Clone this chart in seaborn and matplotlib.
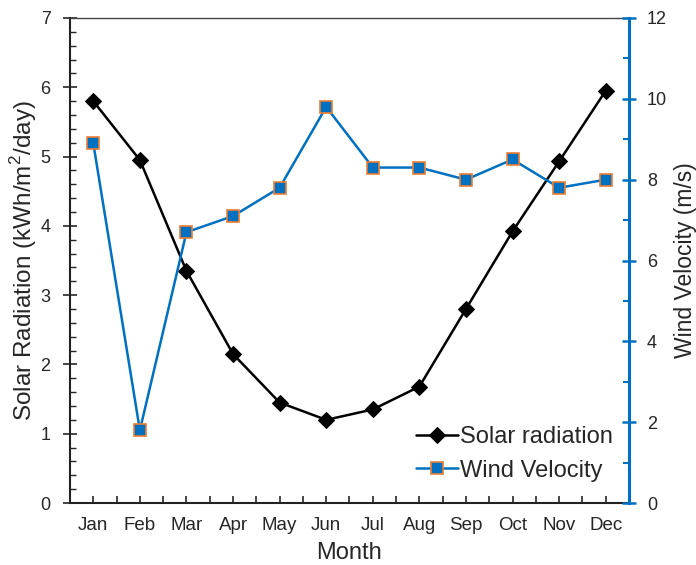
import numpy as np
import pandas as pd
import matplotlib
matplotlib.use('Agg')
import matplotlib.pyplot as plt
from matplotlib.ticker import MultipleLocator, FixedLocator
import seaborn as sns

sns.set_style('ticks')
plt.rcParams['font.family'] = ['Liberation Sans', 'DejaVu Sans']
plt.rcParams['mathtext.fontset'] = 'custom'
plt.rcParams['mathtext.rm'] = 'Liberation Sans'

months = ['Jan', 'Feb', 'Mar', 'Apr', 'May', 'Jun',
          'Jul', 'Aug', 'Sep', 'Oct', 'Nov', 'Dec']
solar = [5.8, 4.95, 3.35, 2.15, 1.45, 1.2, 1.35, 1.68, 2.8, 3.92, 4.93, 5.95]
wind = [8.9, 1.8, 6.7, 7.1, 7.8, 9.8, 8.3, 8.3, 8.0, 8.5, 7.8, 8.0]

df = pd.DataFrame({'Month': months, 'Solar': solar, 'Wind': wind})
blue = '#0070C0'
orange = '#ED7D31'

fig = plt.figure(figsize=(6.96, 5.65), dpi=100)
ax = fig.add_axes([70 / 696, 62 / 565, 559 / 696, 485 / 565])
ax2 = ax.twinx()

sns.lineplot(data=df, x='Month', y='Solar', ax=ax, color='black', lw=1.8,
             marker='D', markersize=8, markerfacecolor='black',
             markeredgecolor='black', label='Solar radiation', legend=False)
sns.lineplot(data=df, x='Month', y='Wind', ax=ax2, color=blue, lw=1.8,
             marker='s', markersize=9, markerfacecolor=blue,
             markeredgecolor=orange, markeredgewidth=1.2,
             label='Wind Velocity', legend=False)

ax.set_xlim(-0.5, 11.5)
ax.set_ylim(0, 7)
ax2.set_ylim(0, 12)

# left axis ticks
ax.yaxis.set_major_locator(MultipleLocator(1))
ax.yaxis.set_minor_locator(MultipleLocator(0.2))
ax.tick_params(axis='y', which='major', direction='inout', length=10, width=1.2,
               labelsize=13, pad=9)
ax.tick_params(axis='y', which='minor', direction='in', length=4, width=1.0)

# x ticks: centres labelled, boundaries minor
ax.set_xticks(range(12))
ax.set_xticklabels(months)
ax.xaxis.set_minor_locator(FixedLocator(np.arange(-0.5, 12, 1.0)))
ax.tick_params(axis='x', which='major', direction='in', length=5, width=1.2,
               labelsize=13.5, pad=10)
ax.tick_params(axis='x', which='minor', direction='in', length=5, width=1.2)

# right axis ticks
ax2.yaxis.set_major_locator(MultipleLocator(2))
ax2.yaxis.set_minor_locator(MultipleLocator(1))
ax2.tick_params(axis='y', which='major', direction='inout', length=10, width=1.8,
                color=blue, labelsize=13, pad=8)
ax2.tick_params(axis='y', which='minor', direction='in', length=4, width=1.5, color=blue)

for s in ['left', 'bottom']:
    ax.spines[s].set_linewidth(1.5)
    ax.spines[s].set_color('#222222')
ax.spines['top'].set_linewidth(1.0)
ax.spines['top'].set_color('#444444')
ax2.spines['top'].set_visible(False)
ax2.spines['left'].set_visible(False)
ax2.spines['bottom'].set_visible(False)
ax.spines['right'].set_visible(False)
ax2.spines['right'].set_color(blue)
ax2.spines['right'].set_linewidth(2.2)

ax.set_xlabel('Month', fontsize=17, labelpad=6)
ax.set_ylabel('Solar Radiation (kWh/m$^2$/day)', fontsize=17.5, labelpad=1)
ax2.set_ylabel('Wind Velocity (m/s)', fontsize=16.5, labelpad=5)

h1, l1 = ax.get_legend_handles_labels()
h2, l2 = ax2.get_legend_handles_labels()
ax2.legend(h1 + h2, l1 + l2, loc='lower right', bbox_to_anchor=(1.01, 0.0),
           frameon=False, fontsize=17, handlelength=1.8, handletextpad=0.1,
           labelspacing=0.5)

fig.savefig('out.png', dpi=100)
